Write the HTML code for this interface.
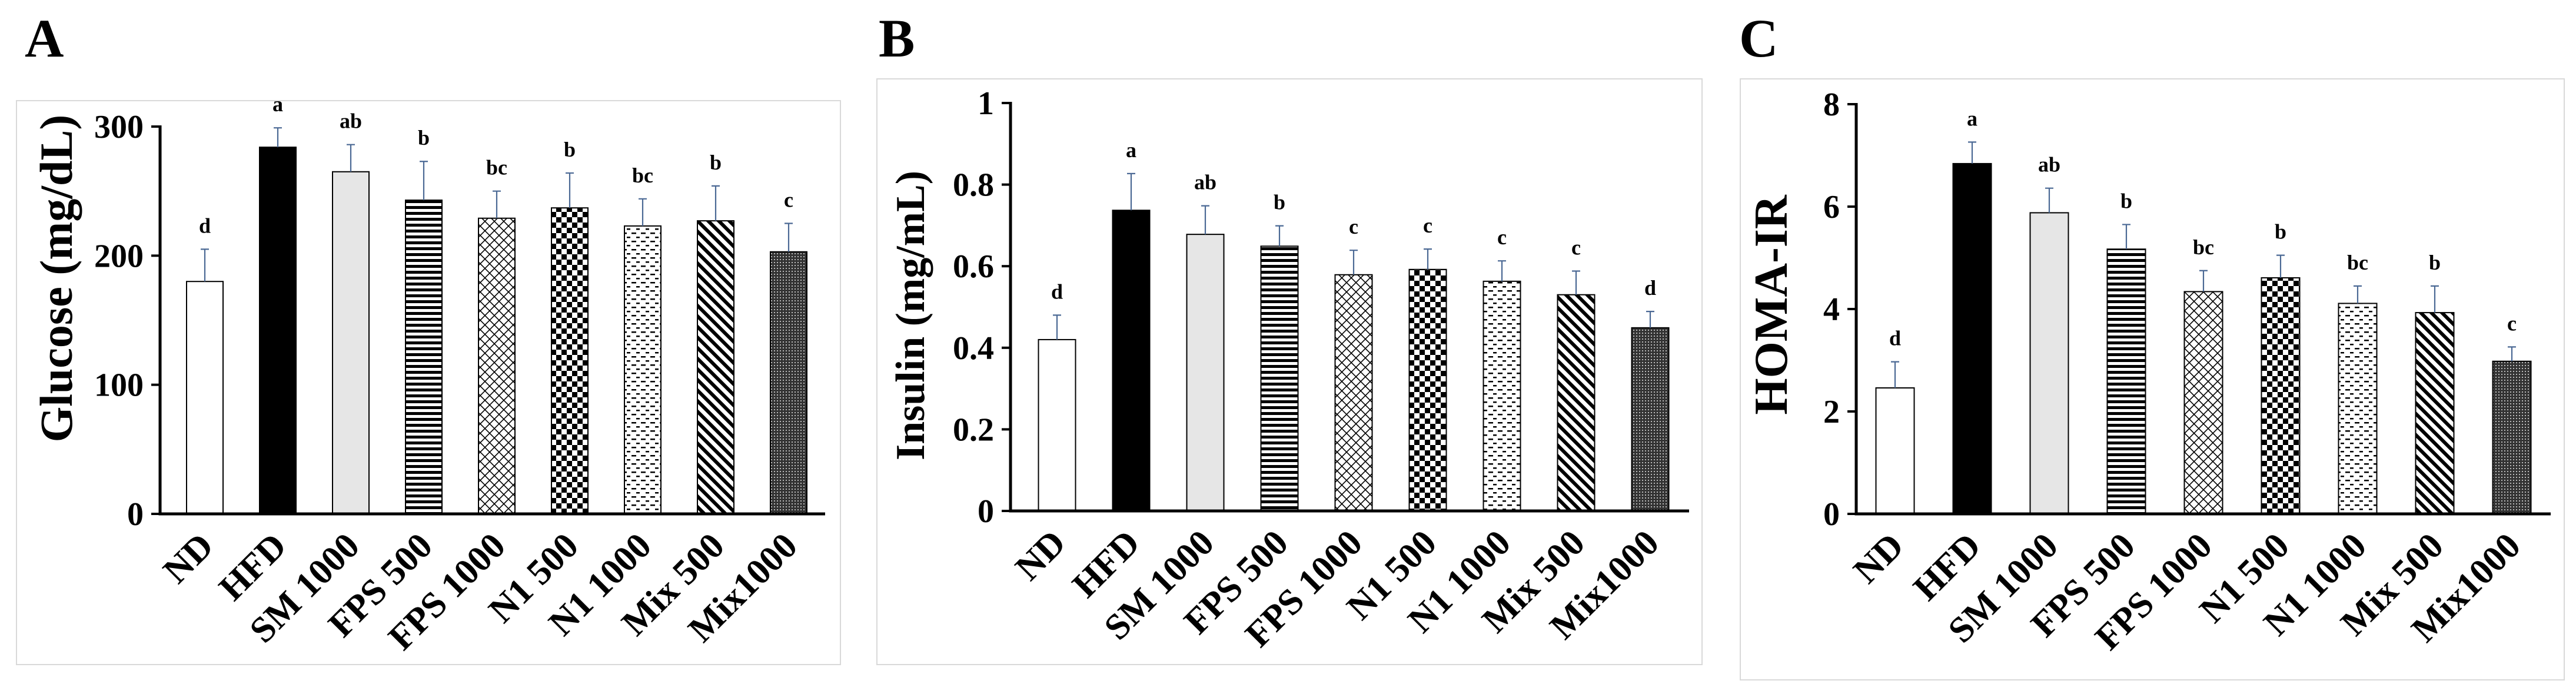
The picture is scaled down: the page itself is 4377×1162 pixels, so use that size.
<!DOCTYPE html>
<html><head><meta charset="utf-8">
<style>
html,body{margin:0;padding:0;background:#fff;}
svg{display:block;font-family:"Liberation Serif","Times New Roman",serif;font-weight:bold;}
</style></head>
<body>
<svg id="fig" width="4377" height="1162" viewBox="0 0 4377 1162" xmlns="http://www.w3.org/2000/svg">
<defs>
<pattern id="p-hstripe" patternUnits="userSpaceOnUse" width="10" height="10"><rect width="10" height="10" fill="#fff"/><rect y="0" width="10" height="5" fill="#000"/></pattern>
<pattern id="p-cross" patternUnits="userSpaceOnUse" width="16" height="16"><rect width="16" height="16" fill="#fff"/><path d="M0 0L16 16M16 0L0 16" stroke="#000" stroke-width="1.6"/></pattern>
<pattern id="p-check" patternUnits="userSpaceOnUse" width="18" height="18"><rect width="18" height="18" fill="#fff"/><rect width="9" height="9" fill="#000"/><rect x="9" y="9" width="9" height="9" fill="#000"/></pattern>
<pattern id="p-dash" patternUnits="userSpaceOnUse" width="16" height="14"><rect width="16" height="14" fill="#fff"/><rect x="1" y="3" width="8" height="2.5" fill="#000"/><rect x="9" y="10" width="6" height="2.5" fill="#000"/></pattern>
<pattern id="p-diag" patternUnits="userSpaceOnUse" width="18" height="18"><rect width="18" height="18" fill="#fff"/><path d="M-4 -4L22 22M-4 14L4 22M14 -4L22 4" stroke="#000" stroke-width="6"/></pattern>
<pattern id="p-dots" patternUnits="userSpaceOnUse" width="5" height="5"><rect width="5" height="5" fill="#333"/><rect width="2" height="2" fill="#bbb"/></pattern>
</defs>
<g id="root"></g>
</svg>
<script>
// Shared categories
const categories = ["ND","HFD","SM 1000","FPS 500","FPS 1000","N1 500","N1 1000","Mix 500","Mix1000"];
const fills = ["#fff","#000","#e6e6e6","url(#p-hstripe)","url(#p-cross)","url(#p-check)","url(#p-dash)","url(#p-diag)","url(#p-dots)"];

// Panel A: Glucose
const glucoseValues = [180, 284, 265, 243, 229, 237, 223, 227, 203];
const glucoseErrors = [25, 15, 21, 30, 21, 27, 21, 27, 22];
const glucoseLetters = ["d","a","ab","b","bc","b","bc","b","c"];
const glucoseTicks = [0, 100, 200, 300];
const glucoseTickLabels = ["0","100","200","300"];

// Panel B: Insulin
const insulinValues = [0.42, 0.737, 0.678, 0.649, 0.579, 0.592, 0.563, 0.530, 0.449];
const insulinErrors = [0.06, 0.09, 0.07, 0.05, 0.06, 0.05, 0.05, 0.058, 0.04];
const insulinLetters = ["d","a","ab","b","c","c","c","c","d"];
const insulinTicks = [0, 0.2, 0.4, 0.6, 0.8, 1];
const insulinTickLabels = ["0","0.2","0.4","0.6","0.8","1"];

// Panel C: HOMA-IR
const homaValues = [2.46, 6.84, 5.88, 5.17, 4.34, 4.61, 4.11, 3.93, 2.98];
const homaErrors = [0.51, 0.42, 0.48, 0.48, 0.41, 0.44, 0.34, 0.52, 0.28];
const homaLetters = ["d","a","ab","b","bc","b","bc","b","c"];
const homaTicks = [0, 2, 4, 6, 8];
const homaTickLabels = ["0","2","4","6","8"];

const NS = "http://www.w3.org/2000/svg";
const root = document.getElementById("root");
function mk(tag, attrs, parent){
  const e = document.createElementNS(NS, tag);
  for (const k in attrs) e.setAttribute(k, attrs[k]);
  (parent||root).appendChild(e);
  return e;
}

function drawPanel(p){
  const g = mk("g", {});
  
  
  const border = mk("rect", {x:p.box[0], y:p.box[1], width:p.box[2]-p.box[0], height:p.box[3]-p.box[1], fill:"#fff", stroke:"#d9d9d9", "stroke-width":2}, g);
  
  
  const lab = mk("text", {x:p.labelX, y:96, "font-size":92}, g);
  lab.textContent = p.letter;
  
  
  const ymax = p.ticks[p.ticks.length-1];
  const yS = v => p.zeroY - v/ymax*(p.zeroY - p.topY);
  const xS = i => p.firstX + i*p.step;
  p.values.forEach((v,i)=>{
    const cx = xS(i);
    const r = mk("rect", {x:cx-p.bw/2, y:yS(v), width:p.bw, height:p.zeroY-yS(v), fill:fills[i], stroke:"#000", "stroke-width":2}, g);
    
    
    const top = yS(v + p.errors[i]);
    const eb = mk("path", {d:`M${cx} ${yS(v)}V${top}M${cx-7} ${top}H${cx+7}`, stroke:"#4a6894", "stroke-width":2.2, fill:"none"}, g);
    
    
    const t = mk("text", {x:cx, y:top-28, "font-size":36, "text-anchor":"middle"}, g);
    t.textContent = p.letters[i];
    
    
    const xl = mk("text", {x:0, y:0, "font-size":62, "text-anchor":"end", transform:`translate(${cx+18},${p.zeroY+58}) rotate(-45)`}, g);
    xl.textContent = categories[i];
    
    
  });
  const ax = mk("path", {d:`M${p.axisX} ${p.topY-2}V${p.zeroY}H${p.axisEnd}`, stroke:"#000", "stroke-width":5, fill:"none"}, g);
  
  
  p.ticks.forEach((t,i)=>{
    const y = yS(t);
    const tk = mk("line", {x1:p.axisX-15, x2:p.axisX, y1:y, y2:y, stroke:"#000", "stroke-width":4}, g);
    
    
    const tl = mk("text", {x:p.axisX-28, y:y+19, "font-size":56, "text-anchor":"end"}, g);
    tl.textContent = p.tickLabels[i];
    
    
  });
  const yt = mk("text", {x:0, y:0, "font-size":p.titleSize, "text-anchor":"middle", transform:`translate(${p.titleX},${p.titleY}) rotate(-90)`}, g);
  yt.textContent = p.title;
  
  
}

drawPanel({name:"glucose-chart", letter:"A", labelX:42, box:[28,171,1428,1129],
  axisX:272, axisEnd:1402, topY:215, zeroY:873, firstX:348, step:124, bw:62,
  values:glucoseValues, errors:glucoseErrors, letters:glucoseLetters, ticks:glucoseTicks, tickLabels:glucoseTickLabels,
  title:"Glucose (mg/dL)", titleX:122, titleY:473, titleSize:78});
drawPanel({name:"insulin-chart", letter:"B", labelX:1493, box:[1490,134,2892,1129],
  axisX:1717, axisEnd:2870, topY:175, zeroY:868, firstX:1796, step:126, bw:63,
  values:insulinValues, errors:insulinErrors, letters:insulinLetters, ticks:insulinTicks, tickLabels:insulinTickLabels,
  title:"Insulin (mg/mL)", titleX:1570, titleY:536, titleSize:70});
drawPanel({name:"homa-ir-chart", letter:"C", labelX:2955, box:[2957,134,4357,1155],
  axisX:3154, axisEnd:4334, topY:177, zeroY:873, firstX:3220, step:131, bw:65,
  values:homaValues, errors:homaErrors, letters:homaLetters, ticks:homaTicks, tickLabels:homaTickLabels,
  title:"HOMA-IR", titleX:3036, titleY:518, titleSize:80});
</script>
</body></html>
